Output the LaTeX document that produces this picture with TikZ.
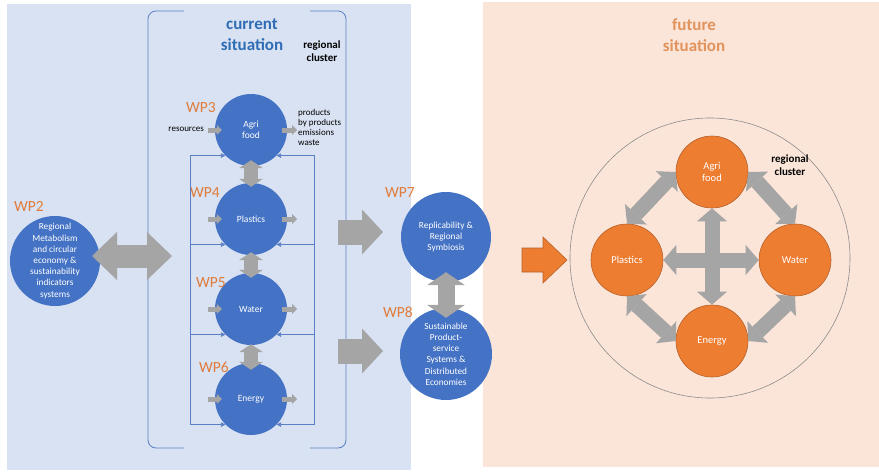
\documentclass[tikz,border=0pt]{standalone}
\usepackage{fontspec}
\setmainfont{Carlito}
\usetikzlibrary{arrows.meta,calc}
\definecolor{bgblue}{HTML}{D9E2F2}
\definecolor{bgorange}{HTML}{FBE5D8}
\definecolor{wpblue}{HTML}{4472C4}
\definecolor{wporange}{HTML}{ED7D31}
\definecolor{wpborder}{HTML}{B5602A}
\definecolor{arrowgray}{HTML}{A5A5A5}
\definecolor{linkblue}{HTML}{5B7FC4}
\definecolor{titleblue}{HTML}{2F6DB5}
\definecolor{titleorange}{HTML}{E2935C}
\definecolor{wplabel}{HTML}{E07B39}
\definecolor{clustergray}{HTML}{8C8C8C}
\tikzset{
  bluecirc/.style={circle, fill=wpblue, text=white, minimum size=72pt, inner sep=0pt, align=center, font=\fontsize{9.5}{10.5}\selectfont},
  orcirc/.style={circle, fill=wporange, draw=wpborder, line width=0.6pt, text=white, minimum size=72pt, inner sep=0pt, align=center, font=\fontsize{10.5}{12}\selectfont},
  celltext/.style={text=white, align=center, inner sep=0pt, font=\fontsize{9.3}{11.2}\selectfont},
  wplab/.style={text=wplabel, font=\fontsize{15.5}{18}\selectfont, inner sep=0pt},
  smalltxt/.style={font=\fontsize{9}{10}\selectfont, inner sep=0pt, align=left},
  clustertxt/.style={font=\bfseries\fontsize{11}{12.5}\selectfont, align=center, inner sep=0pt},
  titletxt/.style={font=\bfseries\fontsize{17}{21}\selectfont, align=center, inner sep=0pt},
  bracketline/.style={draw=linkblue, line width=0.8pt, rounded corners=8pt},
  dblfat/.style n args={3}{draw=arrowgray, line width=#1, {Triangle[width=#2,length=#3,line width=0pt]}-{Triangle[width=#2,length=#3,line width=0pt]}},
  sglfat/.style n args={3}{draw=arrowgray, line width=#1, -{Triangle[width=#2,length=#3,line width=0pt]}},
  fb/.style={draw=linkblue, line width=0.7pt, -{Triangle[width=4.5pt,length=4.5pt]}},
  fbline/.style={draw=linkblue, line width=0.7pt},
  io/.style={draw=arrowgray, line width=5pt, -{Triangle[width=10pt,length=5pt,line width=0pt]}}
}
\begin{document}
\begin{tikzpicture}[x=1pt,y=-1pt]
\useasboundingbox (0,0) rectangle (879,472);
% backgrounds
\fill[bgblue] (7,4) rectangle (411,470);
\fill[bgorange] (483,2) rectangle (879,467);
% bracket
\draw[bracketline] (184,11) -- (148,11) -- (148,448) -- (184,448);
\draw[bracketline] (310,11) -- (346,11) -- (346,448) -- (310,448);
% titles
\node[titletxt, text=titleblue] (curtitle) at (252,35) {current\\situation};
\node[clustertxt] (curcluster) at (322,51) {regional\\cluster};
\node[titletxt, text=titleorange] (futtitle) at (694,35) {future\\situation};
% left circles
\node[circle, fill=wpblue, minimum size=90pt, inner sep=0pt] (wp2) at (55,261) {};
\node[celltext] (wp2t) at (wp2) {Regional\\Metabolism\\and circular\\economy \&\\sustainability\\indicators\\systems};
\node[bluecirc] (agri) at (251,130) {Agri\\food};
\node[bluecirc] (plast) at (251,219) {Plastics};
\node[bluecirc] (water) at (251,309) {Water};
\node[bluecirc] (energy) at (251,399) {Energy};
% WP labels
\node[wplab] (l2) at (29,206) {WP2};
\node[wplab] (l3) at (201,108) {WP3};
\node[wplab] (l4) at (205,192.5) {WP4};
\node[wplab] (l5) at (211,282.5) {WP5};
\node[wplab] (l6) at (214,367.5) {WP6};
\node[wplab] (l7) at (400,192.5) {WP7};
\node[wplab] (l8) at (398,312) {WP8};
% feedback lines
\coordinate (fbtl) at (190,155);
\coordinate (fbbl) at (190,425);
\coordinate (fbtr) at (314,155);
\coordinate (fbbr) at (314,425);
\draw[fbline] (fbtl) -- (fbbl);
\draw[fbline] (fbtr) -- (fbbr);
\foreach \c in {agri,plast,water,energy}{
  \draw[fb] (fbtl |- \c.-135) -- (\c.-135);
  \draw[fb] (fbtr |- \c.-45) -- (\c.-45);
}
% inputs / outputs
\node[smalltxt, anchor=east] (res) at (204,129) {resources};
\node[smalltxt, anchor=west] (outs) at (298,127) {products\\by products\\emissions\\waste};
\foreach \c in {agri,plast,water,energy}{
  \draw[io] ($(\c.west)+(-7,0)$) -- ($(\c.west)+(7,0)$);
  \draw[io] ($(\c.east)+(-5,0)$) -- ($(\c.east)+(10,0)$);
}
% vertical double arrows between circles
\draw[dblfat={14pt}{24pt}{8pt}, shorten <=-6pt, shorten >=-4pt] (agri.south) -- (plast.north);
\draw[dblfat={14pt}{24pt}{8pt}, shorten <=-3pt, shorten >=-5pt] (plast.south) -- (water.north);
\draw[dblfat={14pt}{24pt}{8pt}, shorten <=-1pt, shorten >=-7pt] (water.south) -- (energy.north);
% WP2 big arrow
\coordinate (wp2a) at (92,256);
\coordinate (wp2b) at (172,256);
\draw[dblfat={23pt}{48pt}{25pt}] (wp2a) -- (wp2b);
% WP7 / WP8
\node[circle, fill=wpblue, minimum size=90pt, inner sep=0pt] (wp7) at (446,237) {};
\node[celltext] (wp7t) at (wp7) {Replicability \&\\Regional\\Symbiosis};
\node[circle, fill=wpblue, minimum size=92pt, inner sep=0pt] (wp8) at (446,354) {};
\node[celltext] (wp8t) at (wp8) {Sustainable\\Product-\\service\\Systems \&\\Distributed\\Economies};
\draw[dblfat={17pt}{38pt}{13pt}, shorten <=-10pt, shorten >=-10pt] (wp7.south) -- (wp8.north);
\coordinate (a7s) at (338,232);
\coordinate (a7e) at (383,232);
\coordinate (a8s) at (338,351);
\coordinate (a8e) at (383,351);
\draw[sglfat={25pt}{45pt}{21pt}] (a7s) -- (a7e);
\draw[sglfat={25pt}{45pt}{21pt}] (a8s) -- (a8e);
% orange transition arrow
\fill[wporange, draw=wpborder, line width=0.6pt] (522,248) -- (543,248) -- (543,237) -- (567,260) -- (543,283) -- (543,272) -- (522,272) -- cycle;
% future cluster
\node[circle, draw=clustergray, line width=0.6pt, minimum size=280pt, inner sep=0pt] (cluster) at (710,258) {};
\node[clustertxt] (futcluster) at (790,165) {regional\\cluster};
\node[orcirc] (fagri) at (712,172) {Agri\\food};
\node[orcirc] (fplast) at (627,260) {Plastics};
\node[orcirc] (fwater) at (795,260) {Water};
\node[orcirc] (fenergy) at (712,341) {Energy};
\draw[dblfat={15pt}{30pt}{13pt}] (fplast.east) -- (fwater.west);
\draw[dblfat={15pt}{30pt}{13pt}] (fagri.south) -- (fenergy.north);
\draw[dblfat={15pt}{30pt}{13pt}] (fagri.west) -- (fplast.north);
\draw[dblfat={15pt}{30pt}{13pt}] (fagri.east) -- (fwater.north);
\draw[dblfat={15pt}{30pt}{13pt}] (fplast.south) -- (fenergy.west);
\draw[dblfat={15pt}{30pt}{13pt}] (fenergy.east) -- (fwater.south);
\end{tikzpicture}
\end{document}
